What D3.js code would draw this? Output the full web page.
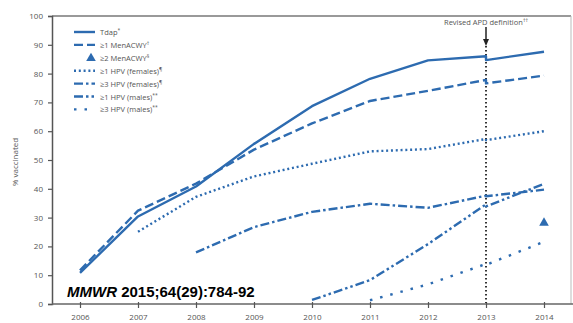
<!DOCTYPE html>
<html><head><meta charset="utf-8">
<script src="https://cdn.jsdelivr.net/npm/d3@7"></script>
<style>body{margin:0;background:#fff}svg{display:block}</style>
</head><body>
<script>
const years = [2006, 2007, 2008, 2009, 2010, 2011, 2012, 2013, 2014];
const yTicks = [0, 10, 20, 30, 40, 50, 60, 70, 80, 90, 100];
// values by year (null = not measured); revised = 2013 value under revised APD definition
const tdap        = [10.8, 30.4, 40.8, 55.6, 68.7, 78.2, 84.6, 86.0, 87.6];
const tdapRev     = 84.7;
const menacwy1    = [11.7, 32.4, 41.8, 53.6, 62.7, 70.5, 74.0, 77.8, 79.3];
const menacwy1Rev = 76.6;
const menacwy2    = [null, null, null, null, null, null, null, null, 28.5];
const hpvF1       = [null, 25.1, 37.2, 44.3, 48.7, 53.0, 53.8, 57.3, 60.0];
const hpvF1Rev    = 56.9;
const hpvF3       = [null, null, 17.9, 26.7, 32.0, 34.8, 33.4, 37.6, 39.7];
const hpvF3Rev    = 37.4;
const hpvM1       = [null, null, null, null, 1.4, 8.3, 20.8, 34.6, 41.7];
const hpvM1Rev    = 33.9;
const hpvM3       = [null, null, null, null, null, 1.3, 6.8, 13.9, 21.6];
const hpvM3Rev    = 13.6;
const legendLabels = ["Tdap*", "≥1 MenACWY†", "≥2 MenACWY§", "≥1 HPV (females)¶", "≥3 HPV (females)¶", "≥1 HPV (males)**", "≥3 HPV (males)**"];

const W = 573, H = 323;
const blue = "#2d6bb0";
const svg = d3.select("body").append("svg").attr("width", W).attr("height", H);
const x = d3.scaleLinear().domain([2006, 2014]).range([80, 544]);
const y = d3.scaleLinear().domain([0, 100]).range([304, 16]);

// frame
svg.append("line").attr("x1", 52).attr("x2", 571).attr("y1", 16).attr("y2", 16).attr("stroke", "#777").attr("stroke-width", 1.5);
svg.append("line").attr("x1", 571).attr("x2", 571).attr("y1", 16).attr("y2", 304).attr("stroke", "#bbb").attr("stroke-width", 1);

// y axis
const ya = svg.append("g").attr("transform", "translate(52,0)")
  .call(d3.axisLeft(y).tickValues(yTicks).tickSize(4).tickPadding(5));
ya.select(".domain").attr("stroke", "#555").attr("stroke-width", 1.5);
ya.selectAll(".tick line").attr("stroke", "#555").attr("stroke-width", 1.2);
ya.selectAll("text").attr("fill", "#555").style("font", "8px 'Open Sans', sans-serif");

// x axis
const xa = svg.append("g").attr("transform", "translate(0,304)")
  .call(d3.axisBottom(x).tickValues(years).tickFormat(d3.format("d")).tickSize(4).tickPadding(6).tickSizeOuter(0));
xa.select(".domain").attr("d", "M52,0H573").attr("stroke", "#666").attr("stroke-width", 1.5);
xa.selectAll(".tick line").attr("stroke", "#555").attr("stroke-width", 1.2).attr("y1", -2);
xa.selectAll("text").attr("fill", "#555").style("font", "8px 'Open Sans', sans-serif");

svg.append("text").attr("transform", "translate(18,162) rotate(-90)").attr("text-anchor", "middle")
  .attr("fill", "#555").style("font", "8px 'Open Sans', sans-serif").text("% vaccinated");

// revised definition marker
svg.append("line").attr("x1", x(2013)).attr("x2", x(2013)).attr("y1", 46).attr("y2", 303)
  .attr("stroke", "#333").attr("stroke-width", 2).attr("stroke-dasharray", "1.6,2.4");
svg.append("line").attr("x1", x(2013)).attr("x2", x(2013)).attr("y1", 27).attr("y2", 40)
  .attr("stroke", "#222").attr("stroke-width", 1.5);
svg.append("path").attr("d", `M${x(2013)-3},39L${x(2013)+3},39L${x(2013)},46Z`).attr("fill", "#222");
const rt = svg.append("text").attr("x", x(2013)).attr("y", 25).attr("text-anchor", "middle")
  .attr("fill", "#555").style("font", "7.5px 'Open Sans', sans-serif").text("Revised APD definition");
rt.append("tspan").attr("dy", -3).style("font-size", "5px").text("††");

// series
const styles = [
  {data: tdap, rev: tdapRev, dash: null},
  {data: menacwy1, rev: menacwy1Rev, dash: "9,4"},
  null,
  {data: hpvF1, rev: hpvF1Rev, dash: "2,2.8"},
  {data: hpvF3, rev: hpvF3Rev, dash: "9,3,2.5,3"},
  {data: hpvM1, rev: hpvM1Rev, dash: "9,3,2.5,3,2.5,3"},
  {data: hpvM3, rev: hpvM3Rev, dash: "2.5,8"}
];
const line = d3.line().x(d => x(d[0])).y(d => y(d[1]));
styles.forEach(s => {
  if (!s) return;
  const pts = [];
  years.forEach((yr, i) => {
    if (s.data[i] == null) return;
    pts.push([yr, s.data[i]]);
    if (yr === 2013) pts.push([2013, s.rev]);
  });
  svg.append("path").attr("d", line(pts)).attr("fill", "none").attr("stroke", blue)
    .attr("stroke-width", 2.4).attr("stroke-dasharray", s.dash).attr("stroke-linejoin", "round");
});
// ≥2 MenACWY point(s)
years.forEach((yr, i) => {
  if (menacwy2[i] == null) return;
  svg.append("path").attr("d", d3.symbol(d3.symbolTriangle, 40)()).attr("fill", blue)
    .attr("transform", `translate(${x(yr)},${y(menacwy2[i]) + 1})`);
});

// legend
const lg = svg.append("g");
legendLabels.forEach((lab, i) => {
  const ly = 32 + i * 12.9;
  const s = styles[i];
  if (s) {
    lg.append("line").attr("x1", 74).attr("x2", 95).attr("y1", ly).attr("y2", ly)
      .attr("stroke", blue).attr("stroke-width", 2.4).attr("stroke-dasharray", s.dash);
  } else {
    lg.append("path").attr("d", d3.symbol(d3.symbolTriangle, 40)()).attr("fill", blue)
      .attr("transform", `translate(91,${ly + 0.5})`);
  }
  const m = lab.match(/^(.*?)([*†§¶]+)$/);
  const t = lg.append("text").attr("x", 100).attr("y", ly + 3).attr("fill", "#555")
    .style("font", "7.5px 'Open Sans', sans-serif").text(m ? m[1] : lab);
  if (m) t.append("tspan").attr("dy", -3).style("font-size", "5px").text(m[2]);
});

// citation
const ct = svg.append("text").attr("x", 67).attr("y", 297).attr("fill", "#000")
  .style("font", "bold 15px 'Liberation Sans', Arial, sans-serif");
ct.append("tspan").style("font-style", "italic").text("MMWR");
ct.append("tspan").text(" 2015;64(29):784-92");
</script>
</body></html>
